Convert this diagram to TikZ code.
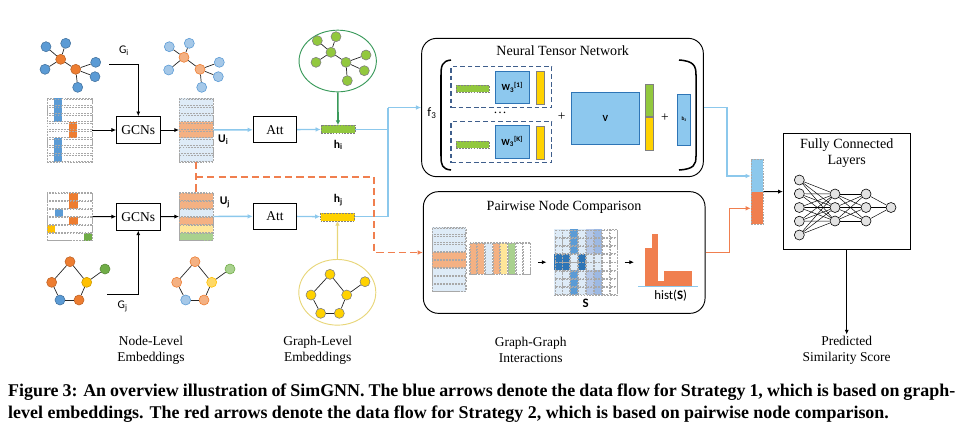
\documentclass[tikz,border=0pt]{standalone}
\usepackage{fontspec}
\setmainfont{Liberation Serif}
\setsansfont{Carlito}
\usetikzlibrary{arrows.meta,positioning,shapes.geometric}

\definecolor{nodeorange}{HTML}{ED7D31}
\definecolor{nodeblue}{HTML}{5B9BD5}
\definecolor{nodeyellow}{HTML}{FFC000}
\definecolor{nodegreen}{HTML}{70AD47}
\definecolor{lorange}{HTML}{F4B183}
\definecolor{lblue}{HTML}{DEEBF7}
\definecolor{lyellow}{HTML}{FFE699}
\definecolor{lgreen}{HTML}{A9D18E}
\definecolor{flowblue}{HTML}{8CC8EC}
\definecolor{floworange}{HTML}{F07F4F}
\definecolor{ntnblue}{HTML}{8DC8EE}
\definecolor{ntnedge}{HTML}{2E75B6}
\definecolor{dashedge}{HTML}{3F5E8C}
\definecolor{barGreen}{HTML}{92C83E}
\definecolor{barYellow}{HTML}{FFD200}
\definecolor{gridgray}{HTML}{A8A8A8}
\definecolor{ellgreen}{HTML}{3A9A5B}
\definecolor{ellyellow}{HTML}{E8D67A}
\definecolor{sdark}{HTML}{2E75B6}
\definecolor{spale}{HTML}{B4C7E7}
\definecolor{smid}{HTML}{9DB9E3}
\definecolor{fcgray}{HTML}{E3E3E3}

\tikzset{
  lbl/.style={font=\fontsize{11.5}{13.7}\selectfont, align=center, inner sep=1pt},
  boxtitle/.style={font=\fontsize{12}{13.7}\selectfont, align=center, inner sep=1pt},
  sflbl/.style={font=\sffamily\bfseries\fontsize{10}{11}\selectfont, inner sep=1pt},
  sfreg/.style={font=\sffamily\fontsize{10}{11}\selectfont, inner sep=1pt},
  blackbox/.style={draw, line width=0.8pt, minimum width=1.3cm, minimum height=0.8cm, inner sep=0pt, font=\fontsize{11.5}{13}\selectfont},
  roundbox/.style={draw, line width=0.8pt, rounded corners=0.45cm, inner sep=0pt},
  mat/.style={draw=gridgray, dash pattern=on 1.5pt off 1pt, line width=0.35pt, inner sep=0pt},
  cell/.style={draw=gridgray, dash pattern=on 1.5pt off 1pt, line width=0.35pt},
  arr/.style={-{Latex[length=4pt,width=3.5pt]}, line width=0.8pt},
  blueline/.style={flowblue, line width=1.2pt},
  bluearr/.style={blueline, -{Latex[length=4.5pt,width=4pt]}},
  orline/.style={floworange, line width=1.2pt},
  orarr/.style={orline, -{Latex[length=4.5pt,width=4pt]}},
  ordash/.style={orline, line width=1.4pt, dash pattern=on 6pt off 3.5pt},
  gnode/.style={circle, inner sep=0pt, minimum size=0.3cm, line width=0.5pt},
  nO/.style={gnode, fill=nodeorange, draw=nodeorange!80!black},
  nB/.style={gnode, fill=nodeblue, draw=nodeblue!75!black},
  nY/.style={gnode, fill=nodeyellow, draw=nodeyellow!80!black},
  nG/.style={gnode, fill=nodegreen, draw=nodegreen!80!black},
  nOl/.style={gnode, fill=lorange, draw=nodeorange},
  nBl/.style={gnode, fill=nodeblue!55, draw=nodeblue},
  nYl/.style={gnode, fill=nodeyellow!60, draw=nodeyellow},
  nGl/.style={gnode, fill=lgreen, draw=nodegreen},
  nGg/.style={gnode, fill=barGreen, draw=gray},
  nYg/.style={gnode, fill=barYellow, draw=gray},
  gedge/.style={line width=0.6pt, black!85},
  fcnode/.style={circle, draw, fill=fcgray, inner sep=0pt, minimum size=0.3cm, line width=0.5pt},
  nnedge/.style={line width=0.4pt},
  dbox/.style={draw=dashedge, dash pattern=on 4pt off 2.5pt, line width=1.2pt, inner sep=0pt, minimum width=3.02cm, minimum height=1.23cm},
  gbar/.style={fill=barGreen, draw=gray, dash pattern=on 1.5pt off 1pt, line width=0.35pt, inner sep=0pt, minimum width=1cm, minimum height=0.22cm},
  ybar/.style={fill=barYellow, draw=gray, line width=0.4pt, inner sep=0pt, minimum width=0.24cm, minimum height=0.99cm},
  wbox/.style={fill=ntnblue, draw=ntnedge, line width=0.6pt, inner sep=0pt, minimum width=1.03cm, minimum height=0.97cm, font=\sffamily\bfseries\fontsize{8}{9}\selectfont},
  hbar/.style={draw=gray, dash pattern=on 1.5pt off 1pt, line width=0.35pt, inner sep=0pt, minimum width=1.02cm, minimum height=0.24cm},
  figcap/.style={font=\bfseries\fontsize{15.3}{17}\selectfont, inner sep=0pt, anchor=west},
}

\begin{document}
\begin{tikzpicture}[x=0.03cm, y=-0.03cm]
\useasboundingbox (0,0) rectangle (962,434);

%% graphs G_i, its embedded copy, graph-level graph
\foreach \n/\x/\y/\s in {ga1/60.7/59.3/nO, ga2/75.7/69.3/nO, ga3/46/46.7/nB, ga4/65.7/43.3/nB,
    ga5/45/69.3/nB, ga6/95.7/62.3/nB, ga7/95/76.7/nB, ga8/77.7/87.3/nB,
    gb1/184/57.3/nOl, gb2/200/69.3/nOl, gb3/169.3/46.7/nBl, gb4/189.3/43.3/nBl,
    gb5/168.7/70/nBl, gb6/219.3/62.3/nBl, gb7/218.3/76.7/nBl, gb8/201.7/87.3/nBl}
  \node[\s] (\n) at (\x,\y) {};

\node[ellipse, draw=ellgreen, line width=0.8pt, inner sep=0pt, minimum width=2.32cm, minimum height=1.85cm] (gie) at (337.7,61) {};
\foreach \n/\x/\y in {gc1/331/52.3, gc2/346/62.3, gc3/317.3/40.7, gc4/336/36.7,
    gc5/316/62.3, gc6/366/55, gc7/364.3/70.7, gc8/347.3/80.7}
  \node[nGg] (\n) at (\x,\y) {};

\foreach \g in {ga,gb,gc} {
  \draw[gedge] (\g1) -- (\g2);
  \foreach \k in {3,4,5} \draw[gedge] (\g1) -- (\g\k);
  \foreach \k in {6,7,8} \draw[gedge] (\g2) -- (\g\k);
}

%% graphs G_j, its embedded copy, graph-level graph
\foreach \n/\x/\y/\s in {pa1/70/261.7/nO, pa2/51.7/282.3/nO, pa3/86.7/282.3/nY,
    pa4/60/300/nB, pa5/79/300/nO, pa6/105/269/nG,
    pb1/195/261.7/nOl, pb2/176.7/282.3/nOl, pb3/211.7/282.3/nYl,
    pb4/185.7/300/nBl, pb5/204/300/nOl, pb6/230/269/nGl}
  \node[\s] (\n) at (\x,\y) {};

\node[ellipse, draw=ellyellow, line width=0.8pt, inner sep=0pt, minimum width=2.31cm, minimum height=1.97cm] (gje) at (337.3,292.3) {};
\foreach \n/\x/\y in {pc1/330/274.3, pc2/311/295, pc3/346.7/295, pc4/320.7/313.3,
    pc5/339.3/313.3, pc6/365/281.7}
  \node[nYg] (\n) at (\x,\y) {};

\foreach \g in {pa,pb,pc} {
  \foreach \a/\b in {1/2,1/3,2/4,4/5,5/3,3/6} \draw[gedge] (\g\a) -- (\g\b);
}

%% feature matrices
\node[mat, minimum width=1.35cm, minimum height=1.92cm] (xi) at (69.5,130) {};
\fill[nodeblue] (54,98) rectangle (62,122);
\fill[nodeorange] (69,122) rectangle (77,138);
\fill[nodeblue] (54,138) rectangle (62,162);
\foreach \r in {0,...,7} \draw[cell] (47,98.7+8*\r) rectangle (92,105.3+8*\r);

\node[mat, minimum width=1.35cm, minimum height=1.44cm] (xj) at (69.8,216.5) {};
\fill[nodeorange] (69.3,192.5) rectangle (78.3,208.5);
\fill[nodeblue] (55,208.5) rectangle (62.7,216.5);
\fill[nodeorange] (69.3,216.5) rectangle (78.3,224.5);
\fill[nodeyellow] (47.3,224.5) rectangle (55,232.5);
\fill[nodegreen] (84,232.5) rectangle (92.3,240.5);
\foreach \r in {0,...,5} \draw[cell] (47.3,193.2+8*\r) rectangle (92.3,199.8+8*\r);

%% GCNs
\node[blackbox] (gcni) at (138.3,130) {GCNs};
\node[blackbox] (gcnj) at (138.3,216.7) {GCNs};
\draw[arr] (xi) -- (gcni);
\draw[arr] (xj) -- (gcnj);

\coordinate (gistart) at (109,64.3);
\coordinate (gjstart) at (107.3,294.3);
\node[sfreg] (gilab) at (124,51) {G\textsubscript{i}};
\node[sfreg] (gjlab) at (122.7,306.7) {G\textsubscript{j}};
\draw[arr] (gistart) -| (gcni);
\draw[arr] (gjstart) -| (gcnj);

%% node-level embeddings
\node[mat, fill=lblue, minimum width=1.02cm, minimum height=1.92cm] (ui) at (196.3,130) {};
\fill[lorange] (179.3,122) rectangle (213.3,138);
\foreach \r in {0,...,7} \draw[cell] (179.3,98.7+8*\r) rectangle (213.3,105.3+8*\r);

\foreach \r/\c in {0/lorange,1/lorange,2/lblue,3/lorange,4/lyellow,5/lgreen}
  \fill[\c] (179.3,192.5+8*\r) rectangle (213.3,200.5+8*\r);
\node[mat, minimum width=1.02cm, minimum height=1.44cm] (uj) at (196.3,216.5) {};
\foreach \r in {0,...,5} \draw[cell] (179.3,193.2+8*\r) rectangle (213.3,199.8+8*\r);

\draw[arr] (gcni) -- (ui);
\draw[arr] (gcnj) -- (uj);
\node[sflbl] (uilab) at (223.3,140) {U\textsubscript{i}};
\node[sflbl] (ujlab) at (225,202.3) {U\textsubscript{j}};

%% attention
\node[blackbox, minimum height=0.78cm] (atti) at (275,129.7) {Att};
\node[blackbox, minimum height=0.78cm] (attj) at (275,216.3) {Att};
\draw[bluearr] (ui) -- (atti);
\draw[bluearr] (uj) -- (attj);

\node[hbar, fill=barGreen] (hi) at (338,129.3) {};
\node[hbar, fill=barYellow] (hj) at (337.5,216.7) {};
\node[sflbl] (hilab) at (338.3,145) {h\textsubscript{i}};
\node[sflbl] (hjlab) at (338.3,200) {h\textsubscript{j}};
\draw[bluearr] (atti) -- (hi);
\draw[bluearr] (attj) -- (hj);
\draw[ellgreen, line width=1.4pt, -{Latex[length=4pt,width=4pt]}] (gie) -- (hi);
\draw[ellyellow, line width=1pt, -{Latex[length=4pt,width=4pt]}] (gje) -- (hj);

%% neural tensor network
\node[roundbox, minimum width=8.45cm, minimum height=4.15cm] (ntn) at (562.5,107.5) {};
\node[boxtitle] (ntntitle) at (562.7,51) {Neural Tensor Network};
\node[sfreg, font=\sffamily\fontsize{11}{12}\selectfont] (f3) at (432,113) {f\textsubscript{3}};

\draw[line width=1.3pt] (451,60) .. controls (442,61) and (441,66) .. (441,75) -- (441,156)
  .. controls (441,165) and (442,169) .. (451,170);
\draw[line width=1.3pt] (679,60) .. controls (694,61) and (696,66) .. (696,75) -- (696,156)
  .. controls (696,165) and (694,169) .. (679,170);

\node[dbox] (slice1) at (501.3,87.2) {};
\node[gbar] (e1) at (472.7,88.7) {};
\node[wbox] (w1) at (512.2,87.2) {W\textsubscript{3}\textsuperscript{[1]}};
\node[ybar] (y1) at (540,87.5) {};
\node[lbl] (dots) at (500,113) {\dots};
\node[dbox] (slicek) at (501.3,142.2) {};
\node[gbar] (ek) at (472.7,144.7) {};
\node[wbox] (wk) at (512.2,141.7) {W\textsubscript{3}\textsuperscript{[K]}};
\node[ybar] (yk) at (540,142.3) {};

\node[lbl] (plus1) at (561.7,116.7) {+};
\node[wbox, minimum width=2.02cm, minimum height=1.54cm] (vmat) at (605.3,118.3) {V};
\node[draw=gray, fill=barGreen, inner sep=0pt, minimum width=0.25cm, minimum height=0.97cm] (vg) at (649.2,100.5) {};
\node[draw=gray, fill=barYellow, inner sep=0pt, minimum width=0.25cm, minimum height=1cm] (vy) at (649.2,133.4) {};
\node[lbl] (plus2) at (665,117.7) {+};
\node[wbox, minimum width=0.39cm, minimum height=1.53cm, font=\sffamily\bfseries\fontsize{4.5}{5}\selectfont] (bvec) at (684.2,119.5) {b\textsubscript{3}};

%% pairwise node comparison
\node[roundbox, minimum width=8.45cm, minimum height=3.65cm] (pnc) at (564.2,252.5) {};
\node[boxtitle] (pnctitle) at (564,206.7) {Pairwise Node Comparison};

\node[mat, fill=lblue, minimum width=1cm, minimum height=1.93cm] (pu) at (449,259.5) {};
\fill[lorange] (432.3,251.5) rectangle (465.7,267.5);
\foreach \r in {0,...,7} \draw[cell] (432.3,228+8.05*\r) rectangle (465.7,234.6+8.05*\r);

\node[mat, minimum width=1.84cm, minimum height=0.95cm] (pv) at (500,258.5) {};
\foreach \c/\col in {0/lorange,1/lorange,2/lblue,3/lorange,4/lyellow,5/lgreen,6/white,7/white}
  \draw[cell, fill=\col] (469.8+7.67*\c,242.7) rectangle (476.5+7.67*\c,274.3);

\node[mat, minimum width=1.89cm, minimum height=1.97cm] (smat) at (585.8,262.2) {};
\fill[lblue] (554.3,229.3) rectangle (601.55,295);
\fill[nodeblue] (570.05,229.3) rectangle (577.9,253.9);
\fill[nodeblue] (570.05,270.4) rectangle (577.9,295);
\fill[sdark] (554.3,253.9) rectangle (570.05,270.4);
\fill[sdark] (577.9,253.9) rectangle (585.8,270.4);
\fill[spale] (585.8,229.3) rectangle (593.7,253.9);
\fill[spale] (585.8,270.4) rectangle (593.7,295);
\fill[smid] (593.7,229.3) rectangle (601.55,253.9);
\fill[smid] (593.7,270.4) rectangle (601.55,295);
\foreach \c in {0,...,7} \foreach \r in {0,...,7}
  \draw[cell] (554.7+7.875*\c,229.7+8.21*\r) rectangle (561.8+7.875*\c,237.1+8.21*\r);
\node[sflbl, font=\sffamily\bfseries\fontsize{11}{12}\selectfont] (slab) at (585.7,303.3) {S};

\coordinate (histin) at (634,262.2);
\draw[arr, line width=0.7pt, shorten <=6.5pt, shorten >=6.5pt] (pv.east |- smat.west) -- (smat.west);
\draw[arr, line width=0.7pt, shorten <=6pt] (smat.east) -- (histin);

\fill[floworange] (645,248.3) rectangle (651.7,285.7);
\fill[floworange] (651.7,234) rectangle (657.7,285.7);
\fill[floworange] (657.7,280.7) rectangle (664.3,285.7);
\fill[floworange] (664.3,271) rectangle (691.7,285.7);
\draw[flowblue, line width=1.3pt] (638.3,286.6) -- (698.3,286.6);
\node[sfreg, font=\sffamily\fontsize{11}{12}\selectfont] (histlab) at (670.7,295.5) {hist(\textbf{S})};

%% flows into the two strategies
\coordinate (bsplit) at (388,107.5);
\draw[blueline] (hi) -| (bsplit);
\draw[blueline] (hj) -| (bsplit);
\draw[bluearr] (bsplit) -- (ntn);

\coordinate (odown) at (374.3,176.7);
\draw[ordash] (ui) -- (uj);
\draw[ordash, -{Latex[length=4.5pt,width=4pt]}] (ui.south |- odown) -- (odown) |- (pnc);

%% concatenation and fully connected layers
\fill[flowblue] (751,159) rectangle (763.3,191.7);
\fill[floworange] (751,191.7) rectangle (763.3,224.3);
\node[mat, minimum width=0.37cm, minimum height=1.96cm] (cat) at (757.2,191.7) {};

\coordinate (bturn) at (727,176);
\coordinate (oturn) at (729.3,208.3);
\draw[bluearr] (ntn.east) -| (bturn) -- (bturn -| cat.west);
\draw[orarr] (pnc.east) -| (oturn) -- (oturn -| cat.west);

\node[draw, line width=0.8pt, minimum width=3.8cm, minimum height=3.48cm] (fc) at (846.7,191.3) {};
\node[boxtitle] (fctitle) at (846.7,153) {Fully Connected\\Layers};
\draw[arr] (cat) -- (fc);

\foreach \i/\y in {1/180,2/193.7,3/207.5,4/221.2,5/235} \node[fcnode] (la\i) at (799.3,\y) {};
\foreach \i/\y in {1/194,2/207.5,3/221} \node[fcnode] (lb\i) at (835,\y) {};
\foreach \i/\y in {1/194,2/207.5,3/221} \node[fcnode] (lc\i) at (866,\y) {};
\node[fcnode] (ld1) at (891,207.5) {};
\foreach \i in {1,...,5} \foreach \j in {1,2,3} \draw[nnedge] (la\i) -- (lb\j);
\foreach \i in {1,2,3} \foreach \j in {1,2,3} \draw[nnedge] (lb\i) -- (lc\j);
\foreach \i in {1,2,3} \draw[nnedge] (lc\i) -- (ld1);

\node[lbl] (score) at (846.7,350) {Predicted\\Similarity Score};
\draw[arr] (fc) -- (score);

%% stage labels
\node[lbl] (nodelev) at (151,350) {Node-Level\\Embeddings};
\node[lbl] (graphlev) at (317.7,350) {Graph-Level\\Embeddings};
\node[lbl] (graphgraph) at (530.7,350) {Graph-Graph\\Interactions};

%% caption
\node[figcap] (cap1) at (8,392) {\makebox[28.41cm][s]{Figure 3: An overview illustration of SimGNN. The blue arrows denote the data flow for Strategy 1, which is based on graph-}};
\node[figcap] (cap2) at (8,414) {level embeddings. The red arrows denote the data flow for Strategy 2, which is based on pairwise node comparison.};

\end{tikzpicture}
\end{document}
